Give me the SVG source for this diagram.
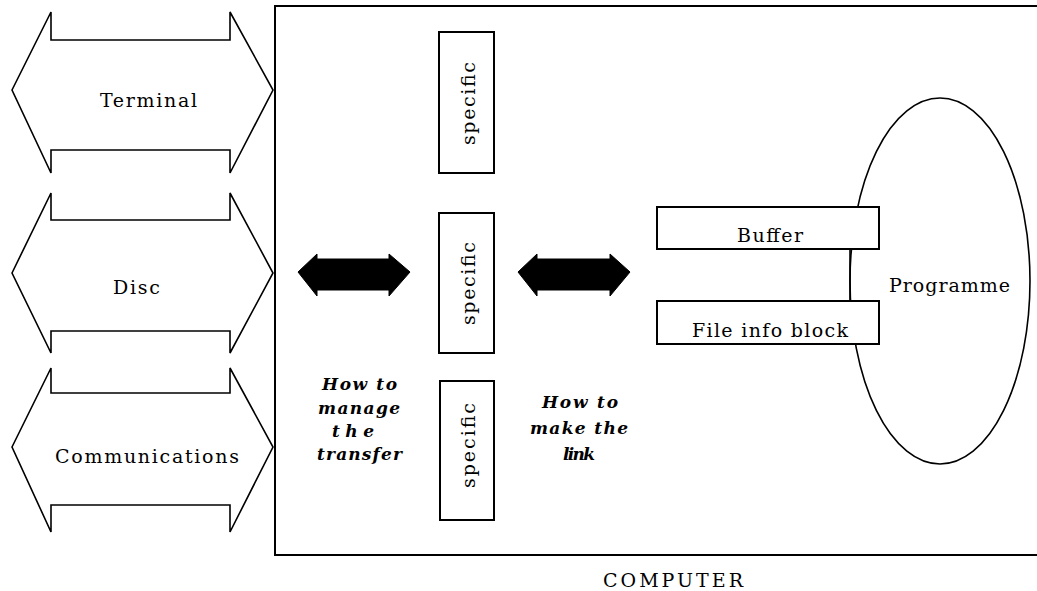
<svg xmlns="http://www.w3.org/2000/svg" width="1037" height="591" viewBox="0 0 1037 591">
  <style>
    .shape { fill: #ffffff; stroke: #000000; stroke-width: 1.6; stroke-linejoin: miter; }
    .box { fill: #ffffff; stroke: #000000; stroke-width: 2; }
    .frame { fill: none; stroke: #000000; stroke-width: 2; }
    .arrow { fill: #000000; stroke: #000000; stroke-width: 1; stroke-linejoin: round; }
    .link { fill: none; stroke: #000000; stroke-width: 1.6; }
    .lbl { font-family: "DejaVu Serif", "Liberation Serif", serif; font-size: 19px; fill: #000000; }
    .note { font-family: "DejaVu Serif", "Liberation Serif", serif; font-size: 17px; font-style: italic; font-weight: bold; fill: #000000; }
  </style>
  <rect x="0" y="0" width="1037" height="591" fill="#ffffff"/>

  <!-- computer frame (open on the right) -->
  <g id="computer">
    <path class="frame" d="M1040,6 H275 V555 H1040"/>
    <text class="lbl" x="603" y="587" textLength="140">COMPUTER</text>
  </g>

  <!-- peripheral double-headed channels -->
  <g id="terminal">
    <path class="shape" d="M12,90 L51,12 L51,40 L230,40 L230,12 L273,90 L230,173 L230,150 L51,150 L51,173 Z"/>
    <text class="lbl" x="100" y="107" textLength="97">Terminal</text>
  </g>
  <g id="disc">
    <path class="shape" d="M12,273 L51,193 L51,220 L230,220 L230,193 L273,273 L230,353 L230,331 L51,331 L51,353 Z"/>
    <text class="lbl" x="113" y="294" textLength="47">Disc</text>
  </g>
  <g id="communications">
    <path class="shape" d="M12,447 L51,368 L51,393 L230,393 L230,368 L273,447 L230,532 L230,505 L51,505 L51,532 Z"/>
    <text class="lbl" x="55" y="463" textLength="184">Communications</text>
  </g>

  <!-- device-specific handlers -->
  <g id="specific-1">
    <rect class="box" x="439" y="32" width="55" height="141"/>
    <text class="lbl" transform="translate(475,145) rotate(-90)" x="0" y="0" textLength="83">specific</text>
  </g>
  <g id="specific-2">
    <rect class="box" x="439" y="213" width="55" height="140"/>
    <text class="lbl" transform="translate(475,325) rotate(-90)" x="0" y="0" textLength="83">specific</text>
  </g>
  <g id="specific-3">
    <rect class="box" x="440" y="381" width="54" height="139"/>
    <text class="lbl" transform="translate(475,488) rotate(-90)" x="0" y="0" textLength="85">specific</text>
  </g>

  <!-- explanatory notes -->
  <g id="note-transfer">
    <text class="note" x="322" y="390" textLength="75">How to</text>
    <text class="note" x="318" y="414" textLength="82">manage</text>
    <text class="note" x="332" y="437" textLength="42">the</text>
    <text class="note" x="317" y="460" textLength="85">transfer</text>
  </g>
  <g id="note-link">
    <text class="note" x="542" y="408" textLength="76">How to</text>
    <text class="note" x="530" y="434" textLength="98">make the</text>
    <text class="note" x="563" y="460" textLength="32">link</text>
  </g>

  <!-- programme with its buffer and file info block -->
  <g id="programme">
    <ellipse class="link" cx="940" cy="281" rx="90" ry="183"/>
    <text class="lbl" x="889" y="292" textLength="121">Programme</text>
  </g>
  <g id="buffer">
    <rect class="box" x="657" y="207" width="222" height="42"/>
    <text class="lbl" x="737" y="242" textLength="66">Buffer</text>
  </g>
  <g id="file-info-block">
    <rect class="box" x="657" y="301" width="222" height="43"/>
    <text class="lbl" x="692" y="337" textLength="156">File info block</text>
  </g>

  <!-- connectors -->
  <g id="connectors">
    <path class="arrow" d="M298,272 L317,254 L317,259 L389,259 L389,254 L410,272 L389,296 L389,290 L317,290 L317,296 Z"/>
    <path class="arrow" d="M518,272 L537,254 L537,259 L610,259 L610,254 L630,272 L610,296 L610,290 L537,290 L537,296 Z"/>
    <line class="link" x1="850" y1="249" x2="850" y2="301"/>
  </g>
</svg>
